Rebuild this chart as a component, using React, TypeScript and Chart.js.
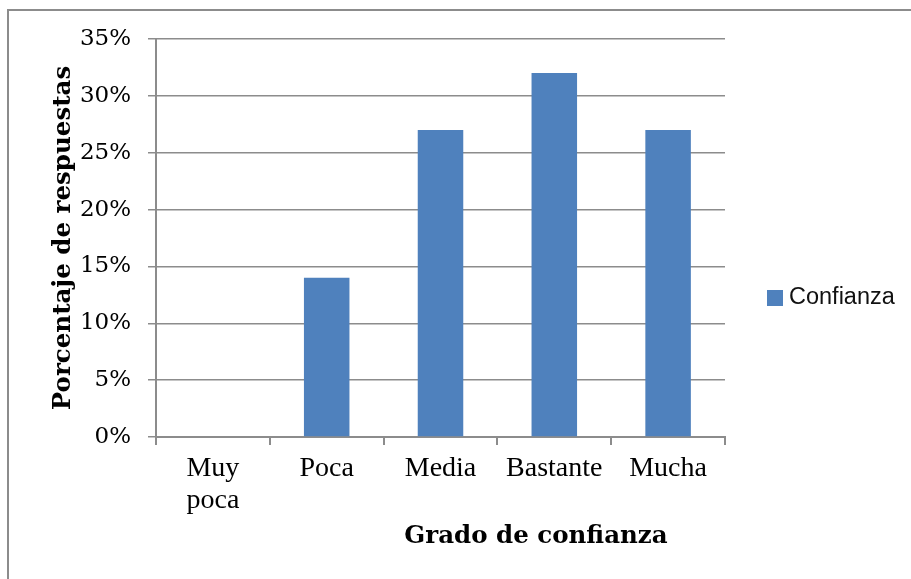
import React, { useEffect, useRef } from "react";
import { Chart, registerables } from "chart.js";

Chart.register(...registerables);

// Survey results: share of answers per confidence level
const categories: (string | string[])[] = [["Muy", "poca"], "Poca", "Media", "Bastante", "Mucha"];
const confianza = [0, 14, 27, 32, 27];
const seriesName = "Confianza";
const yMax = 35;
const yStep = 5;
const xTitle = "Grado de confianza";
const yTitle = "Porcentaje de respuestas";

const BAR_COLOR = "#4F81BD";
const LINE_COLOR = "#8c8c8c";
const TITLE_FONT = "'DejaVu Serif', serif";

// Draws the x-axis caption and the series key beside the plot
const captions = {
  id: "captions",
  afterDraw(chart: Chart) {
    const { ctx, chartArea } = chart;
    ctx.save();
    ctx.fillStyle = "#000";
    ctx.font = `bold 24.5px ${TITLE_FONT}`;
    ctx.textAlign = "center";
    ctx.textBaseline = "middle";
    ctx.fillText(xTitle, chartArea.left + 380, chartArea.bottom + 100);

    const ds = chart.data.datasets[0] as any;
    const boxX = chartArea.right + 42;
    const midY = (chartArea.top + chartArea.bottom) / 2 + 60;
    ctx.fillStyle = ds.backgroundColor;
    ctx.fillRect(boxX, midY - 8, 16, 16);
    ctx.fillStyle = "#111";
    ctx.font = "23.5px 'Liberation Sans', Arial, sans-serif";
    ctx.textAlign = "left";
    ctx.fillText(ds.label, boxX + 22, midY);
    ctx.restore();
  },
};

export default function App() {
  const canvasRef = useRef<HTMLCanvasElement | null>(null);

  useEffect(() => {
    if (!canvasRef.current) return;
    const chart = new Chart(canvasRef.current, {
      type: "bar",
      data: {
        labels: categories,
        datasets: [
          {
            label: seriesName,
            data: confianza,
            backgroundColor: BAR_COLOR,
            borderWidth: 0,
            categoryPercentage: 1,
            barPercentage: 0.4,
          },
        ],
      },
      options: {
        animation: false,
        responsive: false,
        maintainAspectRatio: false,
        layout: { padding: { left: 0, top: 39, right: 186, bottom: 0 } },
        plugins: {
          legend: { display: false },
          tooltip: { enabled: false },
        },
        scales: {
          x: {
            afterFit: (scale: any) => {
              scale.height = 142;
            },
            grid: {
              offset: true,
              drawOnChartArea: false,
              drawTicks: true,
              tickLength: 8,
              color: LINE_COLOR,
              lineWidth: 2,
            },
            border: { display: true, color: LINE_COLOR, width: 2 },
            ticks: {
              color: "#000",
              padding: 8,
              maxRotation: 0,
              autoSkip: false,
              font: { family: "'Liberation Serif', 'Times New Roman', serif", size: 28, lineHeight: 1.14 },
            },
          },
          y: {
            min: 0,
            max: yMax,
            afterFit: (scale: any) => {
              scale.width = 156;
            },
            ticks: {
              stepSize: yStep,
              color: "#000",
              padding: 17,
              font: { family: TITLE_FONT, size: 23 },
              callback: (v: any) => `${v}%`,
            },
            grid: {
              color: LINE_COLOR,
              lineWidth: 1.5,
              drawTicks: true,
              tickLength: 8,
            },
            border: { display: true, color: LINE_COLOR, width: 2 },
            title: {
              display: true,
              text: yTitle,
              color: "#000",
              font: { family: TITLE_FONT, size: 24.5, weight: "bold", lineHeight: 1.2 },
              padding: { top: 49, bottom: 0 },
            },
          },
        },
      },
      plugins: [captions],
    });
    return () => chart.destroy();
  }, []);

  return (
    <div
      style={{
        position: "fixed",
        left: 0,
        top: 0,
        width: 911,
        height: 579,
        overflow: "hidden",
        background: "#fff",
      }}
    >
      <div
        style={{
          position: "absolute",
          left: 7,
          top: 9,
          width: 1200,
          height: 1200,
          borderLeft: `2px solid ${LINE_COLOR}`,
          borderTop: `2px solid ${LINE_COLOR}`,
          pointerEvents: "none",
        }}
      />
      <canvas ref={canvasRef} width={911} height={579} style={{ position: "absolute", left: 0, top: 0 }} />
    </div>
  );
}
